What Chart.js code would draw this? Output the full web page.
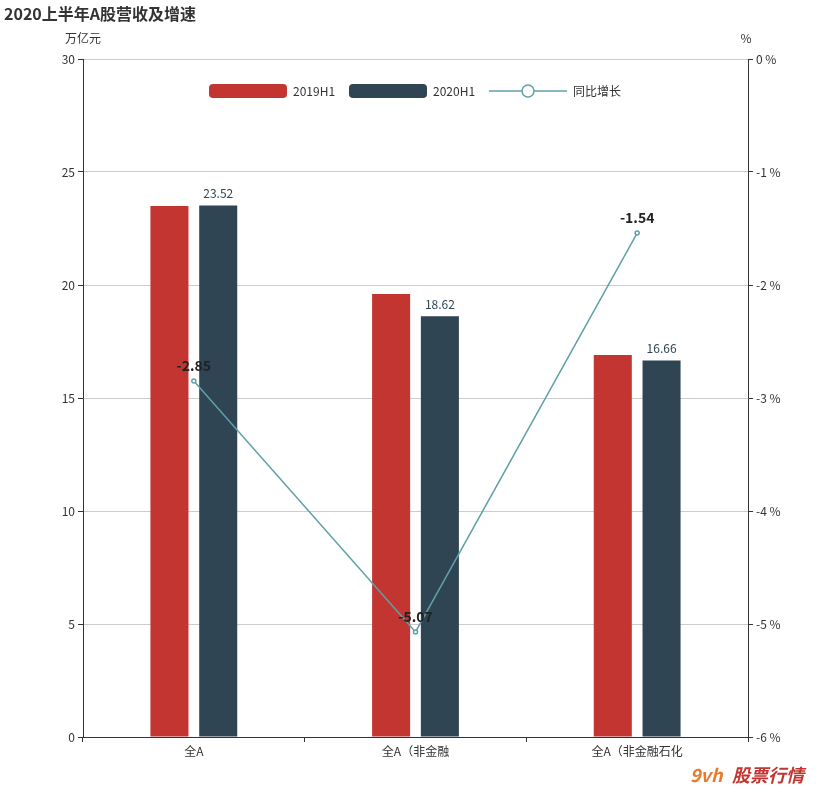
<!DOCTYPE html>
<html><head><meta charset="utf-8">
<script src="https://cdn.jsdelivr.net/npm/chart.js@4"></script>
<style>body{margin:0;background:#fff;font-family:"Noto Sans CJK SC","Noto Sans",sans-serif}#wrap{position:relative;width:830px;height:797px}</style>
</head><body><div id="wrap"><canvas id="c" width="830" height="797"></canvas></div>
<script>
const categories = ['全A', '全A（非金融', '全A（非金融石化'];
const rev2019 = [23.5, 19.6, 16.9];
const rev2020 = [23.52, 18.62, 16.66];
const growth = [-2.85, -5.07, -1.54];
const FONT = '"Noto Sans CJK SC", "Noto Sans", sans-serif';

const extras = {
  id: 'extras',
  afterDraw(chart) {
    const c = chart.ctx;
    c.save();
    c.font = 'bold 16px ' + FONT; c.fillStyle = '#333'; c.textBaseline = 'middle'; c.textAlign = 'left';
    c.fillText('2020上半年A股营收及增速', 4, 14);
    c.font = '12px ' + FONT;
    c.textAlign = 'center'; c.fillText('万亿元', 83, 38); c.fillText('%', 746, 38);
    // legend
    const ly = 91;
    c.fillStyle = '#c23531'; c.beginPath(); c.roundRect(209, ly - 7, 78, 14, 4); c.fill();
    c.fillStyle = '#333'; c.textAlign = 'left'; c.fillText('2019H1', 293, ly);
    c.fillStyle = '#2f4554'; c.beginPath(); c.roundRect(349, ly - 7, 78, 14, 4); c.fill();
    c.fillStyle = '#333'; c.fillText('2020H1', 433, ly);
    c.strokeStyle = '#61a0a8'; c.lineWidth = 1.5; c.beginPath(); c.moveTo(489, ly); c.lineTo(567, ly); c.stroke();
    c.fillStyle = '#fff'; c.beginPath(); c.arc(528, ly, 6, 0, Math.PI * 2); c.fill(); c.stroke();
    c.fillStyle = '#333'; c.fillText('同比增长', 573, ly);
    // bar labels
    const m1 = chart.getDatasetMeta(1);
    c.textAlign = 'center'; c.fillStyle = '#2f4554'; c.font = '12px ' + FONT;
    m1.data.forEach((b, i) => c.fillText(rev2020[i].toFixed(2), b.x, b.y - 12));
    const m2 = chart.getDatasetMeta(2);
    c.font = 'bold 14px ' + FONT; c.fillStyle = '#222';
    m2.data.forEach((p, i) => c.fillText(growth[i].toFixed(2), p.x, p.y - 15));
    // watermark
    c.font = 'italic bold 18px ' + FONT; c.fillStyle = '#e87a2a'; c.textAlign = 'left';
    c.fillText('9vh', 690, 775); c.fillStyle = '#c23531'; c.fillText('股票行情', 732, 775);
    c.restore();
  }
};

new Chart(document.getElementById('c'), {
  data: {
    labels: categories,
    datasets: [
      { type: 'bar', label: '2019H1', data: rev2019, backgroundColor: '#c23531', yAxisID: 'y', categoryPercentage: 0.44, barPercentage: 0.78, order: 2 },
      { type: 'bar', label: '2020H1', data: rev2020, backgroundColor: '#2f4554', yAxisID: 'y', categoryPercentage: 0.44, barPercentage: 0.78, order: 2 },
      { type: 'line', label: '同比增长', data: growth, borderColor: '#61a0a8', borderWidth: 1.5, pointRadius: 2, pointBackgroundColor: '#fff', pointBorderColor: '#61a0a8', yAxisID: 'y1', tension: 0, order: 1 }
    ]
  },
  options: {
    responsive: false, animation: false,
    layout: { padding: { top: 59, left: 0, right: 0, bottom: 0 } },
    plugins: { legend: { display: false }, tooltip: { enabled: false } },
    scales: {
      x: {
        grid: { offset: true, drawOnChartArea: false, tickLength: 5, color: '#333' },
        border: { color: '#333' },
        ticks: { color: '#333', font: { size: 12, family: FONT }, padding: 2 },
        afterFit(s) { s.height = 60; }
      },
      y: {
        position: 'left', min: 0, max: 30,
        ticks: { stepSize: 5, color: '#333', font: { size: 12, family: FONT } },
        grid: { color: '#ccc', tickLength: 5, tickColor: '#333' },
        border: { color: '#333' },
        afterFit(s) { s.width = 83; }
      },
      y1: {
        position: 'right', min: -6, max: 0,
        ticks: { stepSize: 1, color: '#333', font: { size: 12, family: FONT }, callback: v => v + ' %' },
        grid: { drawOnChartArea: false, tickLength: 5, color: '#333' },
        border: { color: '#333' },
        afterFit(s) { s.width = 82; }
      }
    }
  },
  plugins: [extras]
});
</script></body></html>
